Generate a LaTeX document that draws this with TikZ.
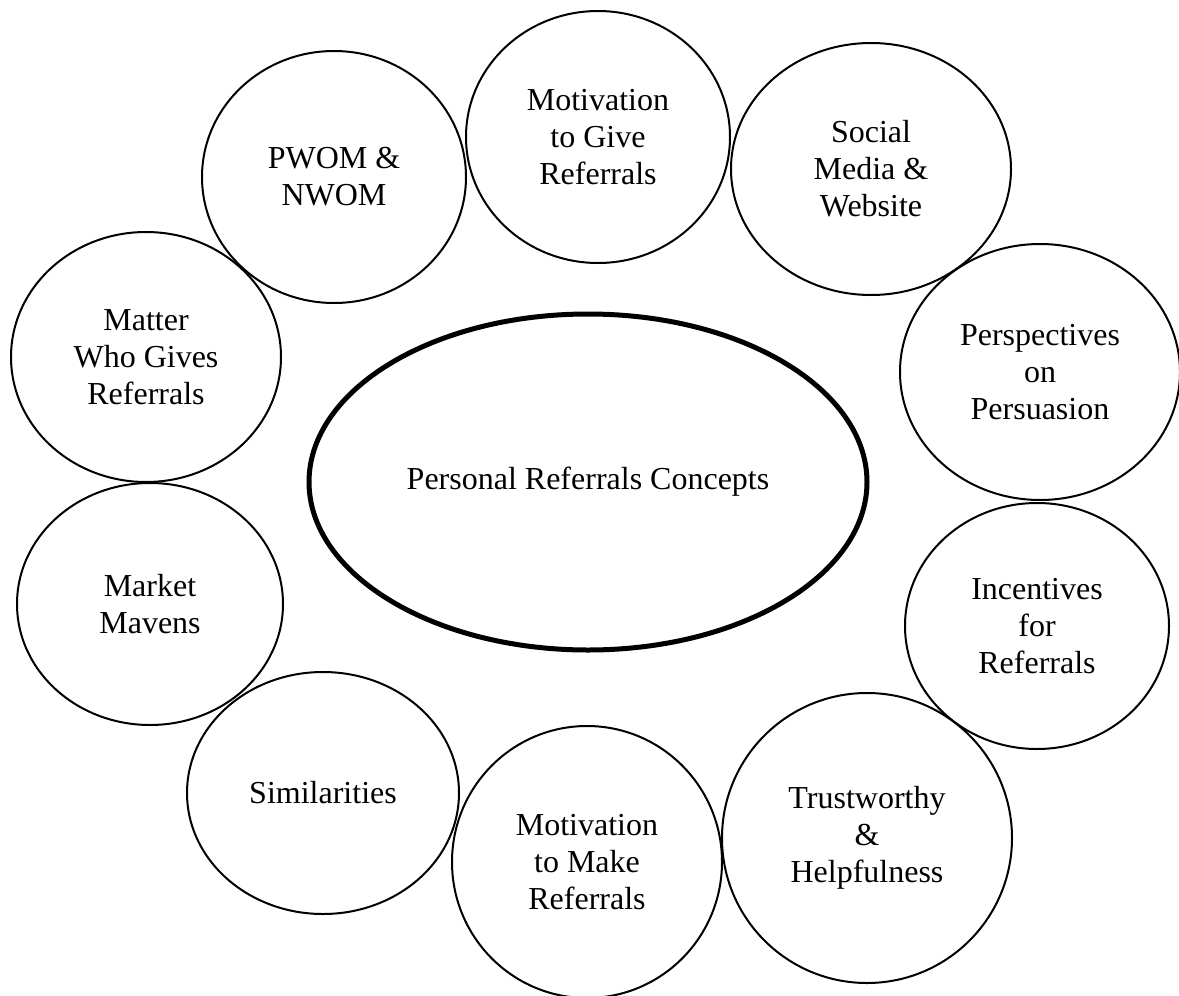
\documentclass[tikz,border=0pt]{standalone}
\usepackage{fontspec}
\setmainfont{Liberation Serif}
\usetikzlibrary{shapes.geometric}

\begin{document}
\begin{tikzpicture}[x=1pt,y=-1pt,line width=2pt,
                    font=\fontsize{32}{37}\selectfont]
  \tikzstyle{bubble}=[ellipse,draw=black,text=black,align=center,inner sep=0pt]
  \tikzstyle{core}=[bubble,line width=5pt]

  \useasboundingbox (0,0) rectangle (1179,996);

  \node[core]   (C) [minimum width=558pt, minimum height=336pt] at (588,482) {Personal Referrals Concepts};

  \node[bubble] (PW) [minimum width=264pt, minimum height=252pt] at (334,177) {PWOM \&\\NWOM};
  \node[bubble] (MG) [minimum width=264pt, minimum height=252pt] at (598,137) {Motivation\\to Give\\Referrals};
  \node[bubble] (SM) [minimum width=280pt, minimum height=252pt] at (871,169) {Social\\Media \&\\Website};
  \node[bubble] (PP) [minimum width=280pt, minimum height=256pt] at (1040,372) {Perspectives\\on\\Persuasion};
  \node[bubble] (IR) [minimum width=264pt, minimum height=246pt] at (1037,626) {Incentives\\for\\Referrals};
  \node[bubble] (TH) [minimum width=290pt, minimum height=290pt] at (867,838) {Trustworthy\\\&\\Helpfulness};
  \node[bubble] (MM) [minimum width=270pt, minimum height=272pt] at (587,862) {Motivation\\to Make\\Referrals};
  \node[bubble] (SI) [minimum width=272pt, minimum height=242pt] at (323,793) {Similarities};
  \node[bubble] (MV) [minimum width=266pt, minimum height=242pt] at (150,604) {Market\\Mavens};
  \node[bubble] (MW) [minimum width=270pt, minimum height=250pt] at (146,357) {Matter\\Who Gives\\Referrals};
\end{tikzpicture}
\end{document}
